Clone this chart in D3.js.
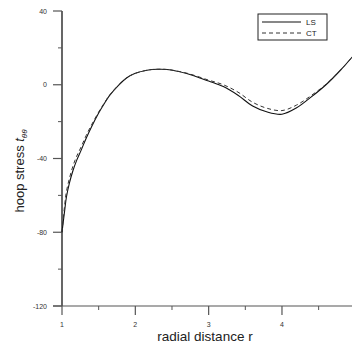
<!DOCTYPE html>
<html>
<head>
<meta charset="utf-8">
<script src="https://cdn.jsdelivr.net/npm/d3@7"></script>
<style>
html,body{margin:0;padding:0;background:#fff;}
svg{display:block;font-family:"Liberation Sans",Arial,sans-serif;}
</style>
</head>
<body>
<script>
const rValues  = [1.0,1.037,1.06,1.1,1.15,1.2,1.26,1.33,1.4,1.5,1.58,1.65,1.77,1.88,2.0,2.16,2.3,2.43,2.7,3.0,3.2,3.4,3.6,3.8,4.0,4.2,4.4,4.6,4.8,5.0];
const lsValues = [-80,-68,-61,-53.5,-46.5,-41,-35.6,-29,-23,-15.3,-10,-5.8,-0.3,3.7,6.2,7.9,8.4,8.3,6.1,2,-1,-5.7,-11.5,-14.8,-16,-12.5,-6.6,0,8,17];
const ctValues = [-80,-65,-58,-51,-44,-38.8,-33.8,-27.5,-22,-14.8,-9.7,-5.6,-0.2,3.7,6.2,7.9,8.4,8.3,6.3,2.5,0,-4,-9.5,-12.8,-14,-11,-5.8,0.3,8,17];
const seriesNames = ["LS","CT"];
const xTicks = [1,2,3,4];
const xMinor = [1.5,2.5,3.5,4.5];
const yTicks = [40,0,-40,-80,-120];
const yMinor = [20,-20,-60,-100];

const W=352,H=345;
const svg=d3.select("body").append("svg").attr("width",W).attr("height",H);
const x=d3.scaleLinear().domain([1,5]).range([62,355.3]);
const y=d3.scaleLinear().domain([-120,40]).range([306,11]);

const g=svg.append("g");
g.append("line").attr("x1",62).attr("x2",62).attr("y1",y(40)).attr("y2",y(-120)).attr("stroke","#000").attr("stroke-width",1.2);
g.append("line").attr("x1",53).attr("x2",W).attr("y1",y(-120)).attr("y2",y(-120)).attr("stroke","#555").attr("stroke-width",1.2);

yTicks.forEach(v=>{
  g.append("line").attr("x1",53).attr("x2",62).attr("y1",y(v)).attr("y2",y(v)).attr("stroke","#555").attr("stroke-width",1.2);
  g.append("text").attr("x",47).attr("y",y(v)+2.5).attr("text-anchor","end").attr("font-size",7).attr("fill","#333").text(v);
});
yMinor.forEach(v=>{
  g.append("line").attr("x1",58).attr("x2",62).attr("y1",y(v)).attr("y2",y(v)).attr("stroke","#555").attr("stroke-width",1);
});
xTicks.forEach(v=>{
  g.append("line").attr("x1",x(v)).attr("x2",x(v)).attr("y1",306).attr("y2",315).attr("stroke","#555").attr("stroke-width",1.2);
  g.append("text").attr("x",x(v)).attr("y",327).attr("text-anchor","middle").attr("font-size",7).attr("fill","#333").text(v);
});
xMinor.forEach(v=>{
  g.append("line").attr("x1",x(v)).attr("x2",x(v)).attr("y1",306).attr("y2",310).attr("stroke","#555").attr("stroke-width",1);
});

svg.append("text").attr("x",205).attr("y",341).attr("text-anchor","middle").attr("font-size",13.5).attr("fill","#222").text("radial distance r");
const yl=svg.append("text").attr("transform","translate(24,171) rotate(-90)").attr("text-anchor","middle").attr("font-size",13).attr("fill","#222");
yl.append("tspan").text("hoop stress ");
yl.append("tspan").attr("font-style","italic").text("t");
yl.append("tspan").attr("font-size",8).attr("dy",3).attr("font-style","italic").text("θθ");

svg.append("clipPath").attr("id","c").append("rect").attr("x",0).attr("y",0).attr("width",W).attr("height",306);
const line=d3.line().x((d,i)=>x(rValues[i])).y(d=>y(d)).curve(d3.curveCatmullRom.alpha(0.5));
svg.append("path").attr("clip-path","url(#c)").attr("d",line(lsValues)).attr("fill","none").attr("stroke","#111").attr("stroke-width",1.1);
svg.append("path").attr("clip-path","url(#c)").attr("d",line(ctValues)).attr("fill","none").attr("stroke","#333").attr("stroke-width",1).attr("stroke-dasharray","4,3");

const lg=svg.append("g");
lg.append("rect").attr("x",258).attr("y",14).attr("width",69).attr("height",26).attr("fill","#fff").attr("stroke","#222").attr("stroke-width",1);
lg.append("line").attr("x1",262).attr("x2",301).attr("y1",22).attr("y2",22).attr("stroke","#111").attr("stroke-width",1.1);
lg.append("line").attr("x1",262).attr("x2",301).attr("y1",33).attr("y2",33).attr("stroke","#333").attr("stroke-width",1).attr("stroke-dasharray","4,3");
lg.append("text").attr("x",306).attr("y",25).attr("font-size",8).attr("fill","#222").text(seriesNames[0]);
lg.append("text").attr("x",306).attr("y",36).attr("font-size",8).attr("fill","#222").text(seriesNames[1]);
</script>
</body>
</html>
